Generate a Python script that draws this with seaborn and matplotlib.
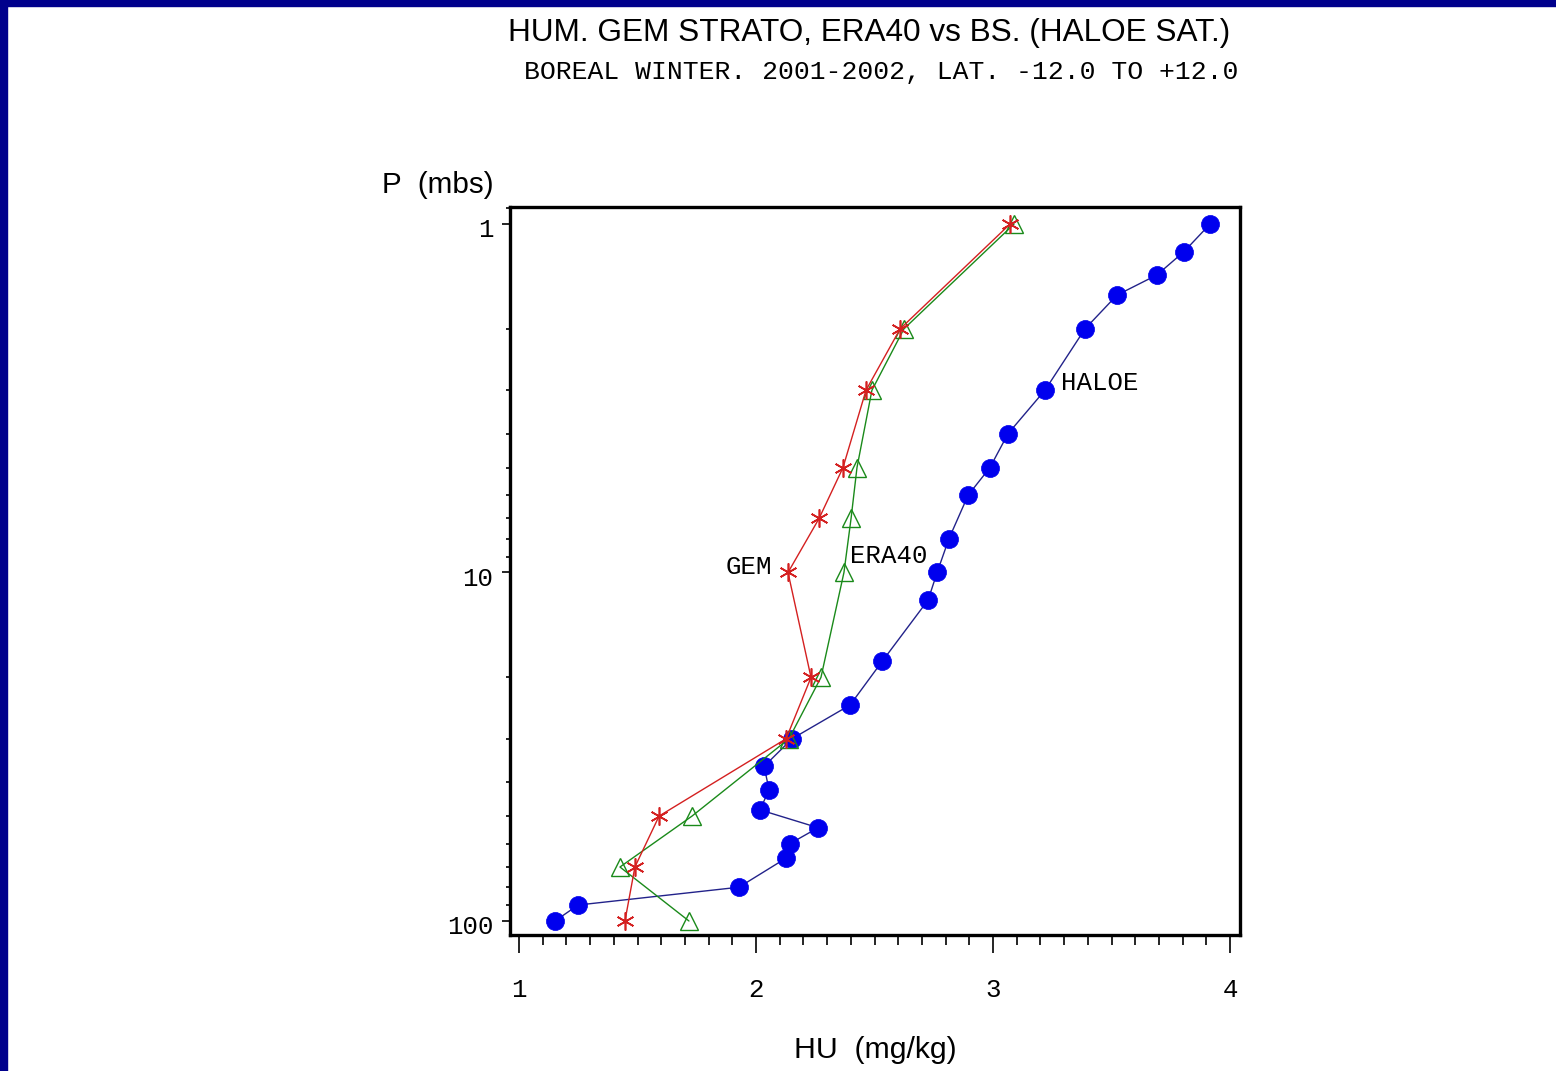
import matplotlib
matplotlib.use("Agg")
import matplotlib.pyplot as plt
import seaborn as sns
from matplotlib.ticker import MultipleLocator, LogLocator, NullFormatter
from matplotlib.patches import Rectangle
import matplotlib.transforms as mtransforms

# ---------------- data ----------------
haloe_hu = [3.916, 3.806, 3.692, 3.523, 3.388, 3.219, 3.063, 2.987, 2.895, 2.814,
            2.764, 2.726, 2.532, 2.397, 2.152, 2.034, 2.055, 2.017, 2.262, 2.143,
            2.127, 1.928, 1.249, 1.152]
haloe_p = [1.0, 1.2, 1.4, 1.6, 2.0, 3.0, 4.0, 5.0, 6.0, 8.0,
           10.0, 12.0, 18.0, 24.0, 30.0, 36.0, 42.0, 48.0, 54.0, 60.0,
           66.0, 80.0, 90.0, 100.0]

gem_hu = [3.072, 2.608, 2.464, 2.367, 2.266, 2.135, 2.232, 2.127, 1.591, 1.489, 1.447]
gem_p = [1, 2, 3, 5, 7, 10, 20, 30, 50, 70, 100]

era_hu = [3.089, 2.624, 2.489, 2.426, 2.401, 2.371, 2.274, 2.139, 1.730, 1.426, 1.717]
era_p = [1, 2, 3, 5, 7, 10, 20, 30, 50, 70, 100]

x_ticks = [1, 2, 3, 4]
x_tick_labels = ["1", "2", "3", "4"]
y_ticks = [1, 10, 100]
y_tick_labels = ["1", "10", "100"]

title = "HUM. GEM STRATO, ERA40 vs BS. (HALOE SAT.)"
subtitle = "BOREAL WINTER. 2001-2002, LAT. -12.0 TO +12.0"
ylabel = "P  (mbs)"
xlabel = "HU  (mg/kg)"

# ---------------- style ----------------
sns.set_style("white")
plt.rcParams["font.family"] = ["Liberation Sans", "DejaVu Sans"]
plt.rcParams["text.color"] = "black"
plt.rcParams["xtick.color"] = "black"
plt.rcParams["ytick.color"] = "black"

fig = plt.figure(figsize=(15.56, 10.71), dpi=100)
fig.patch.set_facecolor("white")

# blue border strips (top and left)
fig.patches.append(Rectangle((0, 0), 7 / 1556, 1, transform=fig.transFigure,
                             color="#00008c", zorder=10))
fig.patches.append(Rectangle((0, 1 - 6 / 1071), 1, 6 / 1071, transform=fig.transFigure,
                             color="#00008c", zorder=10))

ax = fig.add_axes([510 / 1556, 1 - 935 / 1071, 730 / 1556, 728 / 1071])
ax.set_yscale("log")

sns.lineplot(x=haloe_hu, y=haloe_p, sort=False, estimator=None, ax=ax,
             color="#22228a", lw=1.0, marker="o", markersize=13,
             markerfacecolor="#0000ee", markeredgecolor="#0000ee",
             markeredgewidth=0.5, zorder=3)
sns.lineplot(x=era_hu, y=era_p, sort=False, estimator=None, ax=ax,
             color="#1a8a1a", lw=1.0, marker="^", markersize=12.5,
             markerfacecolor="none", markeredgecolor="#1a8a1a",
             markeredgewidth=1.0, zorder=4)
sns.lineplot(x=gem_hu, y=gem_p, sort=False, estimator=None, ax=ax,
             color="#d42020", lw=1.0, marker=(6, 2, 0), markersize=13,
             markeredgecolor="#d42020", markeredgewidth=1.2, zorder=5)

ax.set_xlim(0.962, 4.042)
ax.set_ylim(109.7, 0.894)

# ticks
ax.set_xticks(x_ticks, labels=x_tick_labels, fontfamily="Liberation Mono", fontsize=18.5)
ax.xaxis.set_minor_locator(MultipleLocator(0.1))
ax.set_yticks(y_ticks, labels=y_tick_labels, fontfamily="Liberation Mono", fontsize=18.5)
ax.yaxis.set_minor_locator(LogLocator(base=10, subs=[2, 3, 4, 5, 6, 7, 8, 9]))
ax.yaxis.set_minor_formatter(NullFormatter())

ax.tick_params(axis="x", which="major", bottom=True, direction="out",
               length=13, width=1.2, pad=18, colors="black")
ax.tick_params(axis="x", which="minor", bottom=True, direction="out",
               length=7, width=1.2, colors="black")
ax.tick_params(axis="y", which="major", left=True, direction="out",
               length=6, width=1.2, pad=6, colors="black")
ax.tick_params(axis="y", which="minor", left=True, direction="out",
               length=3, width=1.2, colors="black")

# y tick labels sit slightly below their ticks in the reference
offset = mtransforms.ScaledTranslation(0, -4 / 100, fig.dpi_scale_trans)
for lab in ax.get_yticklabels():
    lab.set_transform(lab.get_transform() + offset)

for s in ax.spines.values():
    s.set_visible(True)
    s.set_color("black")
    s.set_linewidth(2.4)
ax.grid(False)
ax.set_xlabel("")
ax.set_ylabel("")

# curve labels
mono = "Liberation Mono"
ax.text(2.067, 9.64, "GEM", ha="right", va="center", fontsize=18.5, family=mono)
ax.text(2.397, 8.97, "ERA40", ha="left", va="center", fontsize=18.5, family=mono)
ax.text(3.287, 2.86, "HALOE", ha="left", va="center", fontsize=18.5, family=mono)

# titles and axis labels
fig.text(869 / 1556, 1 - 33 / 1071, title, ha="center", va="center",
         fontsize=22.7, family="Liberation Sans")
fig.text(1238 / 1556, 1 - 72 / 1071, subtitle, ha="right", va="center",
         fontsize=19.0, family=mono)
fig.text(382 / 1556, 1 - 185 / 1071, ylabel, ha="left", va="center",
         fontsize=21.3, family="Liberation Sans")
fig.text(875 / 1556, 1 - 1050 / 1071, xlabel, ha="center", va="center",
         fontsize=21.8, family="Liberation Sans")

fig.savefig("out.png", dpi=100, facecolor="white")
